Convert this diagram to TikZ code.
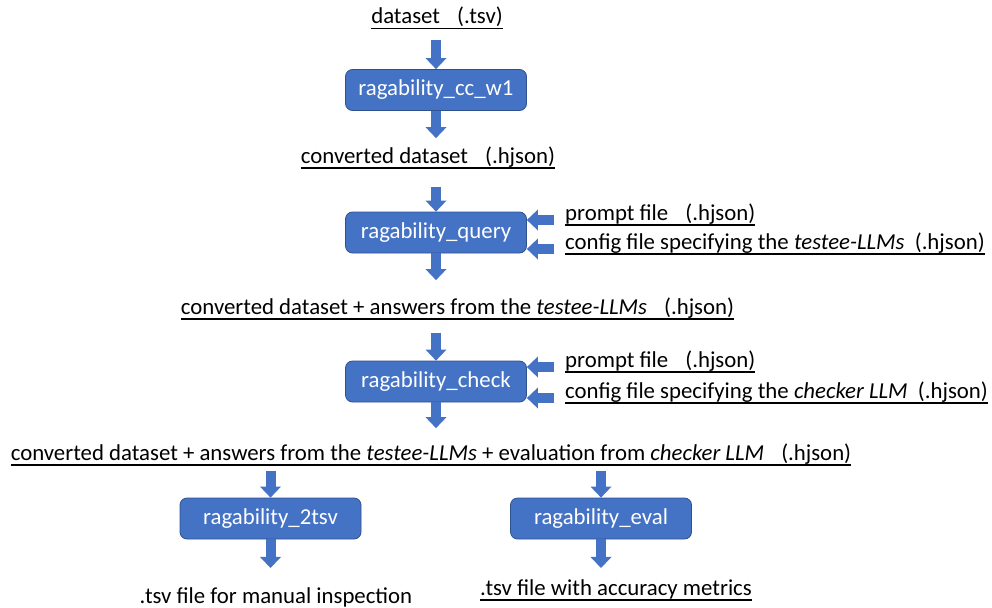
\documentclass[tikz,border=0pt]{standalone}
\usepackage{fontspec}
\setmainfont{Carlito}
\usetikzlibrary{arrows.meta,positioning}
\definecolor{boxblue}{HTML}{4472C4}
\definecolor{boxedge}{HTML}{2F528F}
\newcommand{\ulin}[1]{\setbox0\hbox{#1}\leavevmode\rlap{\raisebox{-5.5pt}{\rule{\wd0}{1.5pt}}}\box0}
\newcommand{\gap}[1][0.75em]{\hspace{#1}}
\begin{document}
\begin{tikzpicture}[x=1pt, y=-1pt,
  box/.style={draw=boxedge, fill=boxblue, rounded corners=7pt, line width=0.8pt,
              minimum width=181pt, minimum height=41pt, text=white,
              font=\fontsize{22.8}{27}\selectfont},
  lbl/.style={font=\fontsize{22.8}{27}\selectfont, anchor=base, inner sep=2pt},
  arr/.style={draw=boxblue, line width=10pt,
              -{Triangle[width=21pt,length=11pt,line width=0pt]}},
  side/.style={arr, shorten <=9pt}
]
  \useasboundingbox (0,0) rectangle (992,607);
  % main chain
  \node[lbl] (ds) at (437,24) {\ulin{dataset\gap(.tsv)}};
  \node[box] (ccw1) at (436,90) {ragability\_cc\_w1};
  \node[lbl] (conv) at (428,163) {\ulin{converted dataset\gap(.hjson)}};
  \node[box] (query) at (436,232.5) {ragability\_query};
  \node[lbl, anchor=base west] (qprompt) at (563,220) {\ulin{prompt file\gap(.hjson)}};
  \node[lbl, anchor=base west] (qconfig) at (563,249) {\ulin{config file specifying the \textit{testee-LLMs}\gap[0.45em](.hjson)}};
  \node[lbl] (answ) at (457.5,314) {\ulin{converted dataset + answers from the \textit{testee-LLMs}\gap(.hjson)}};
  \node[box] (check) at (436,381.5) {ragability\_check};
  \node[lbl, anchor=base west] (cprompt) at (563,367) {\ulin{prompt file\gap(.hjson)}};
  \node[lbl, anchor=base west] (cconfig) at (563,398) {\ulin{config file specifying the \textit{checker LLM}\gap[0.45em](.hjson)}};
  \node[lbl] (evald) at (431,460) {\ulin{converted dataset + answers from the \textit{testee-LLMs} + evaluation from \textit{checker LLM}\gap(.hjson)}};
  % two outputs
  \node[box] (totsv) at (270.5,518.5) {ragability\_2tsv};
  \node[box] (evl) at (601,518.5) {ragability\_eval};
  \node[lbl] (manual) at (276,603) {.tsv file for manual inspection};
  \node[lbl] (metrics) at (616,595) {\ulin{.tsv file with accuracy metrics}};

  \draw[arr, shorten <=8pt] (ccw1.north |- ds.south) -- (ccw1.north);
  \draw[arr, shorten >=6pt] (ccw1.south) -- (ccw1.south |- conv.north);
  \draw[arr, shorten <=16pt] (query.north |- conv.south) -- (query.north);
  \draw[arr, shorten >=15pt] (query.south) -- (query.south |- answ.north);
  \draw[arr, shorten <=11pt] (check.north |- answ.south) -- (check.north);
  \draw[arr, shorten >=13pt] (check.south) -- (check.south |- evald.north);
  \draw[side] (qprompt.base west) -- (qprompt.base west -| query.east);
  \draw[side] (qconfig.base west) -- (qconfig.base west -| query.east);
  \draw[side] (cprompt.base west) -- (cprompt.base west -| check.east);
  \draw[side] (cconfig.base west) -- (cconfig.base west -| check.east);
  \draw[arr, shorten <=3pt] (evald.south -| totsv.north) -- (totsv.north);
  \draw[arr, shorten <=3pt] (evald.south -| evl.north) -- (evl.north);
  \draw[arr, shorten >=17pt] (totsv.south) -- (totsv.south |- manual.north);
  \draw[arr, shorten >=9pt] (evl.south) -- (evl.south |- metrics.north);
\end{tikzpicture}
\end{document}
